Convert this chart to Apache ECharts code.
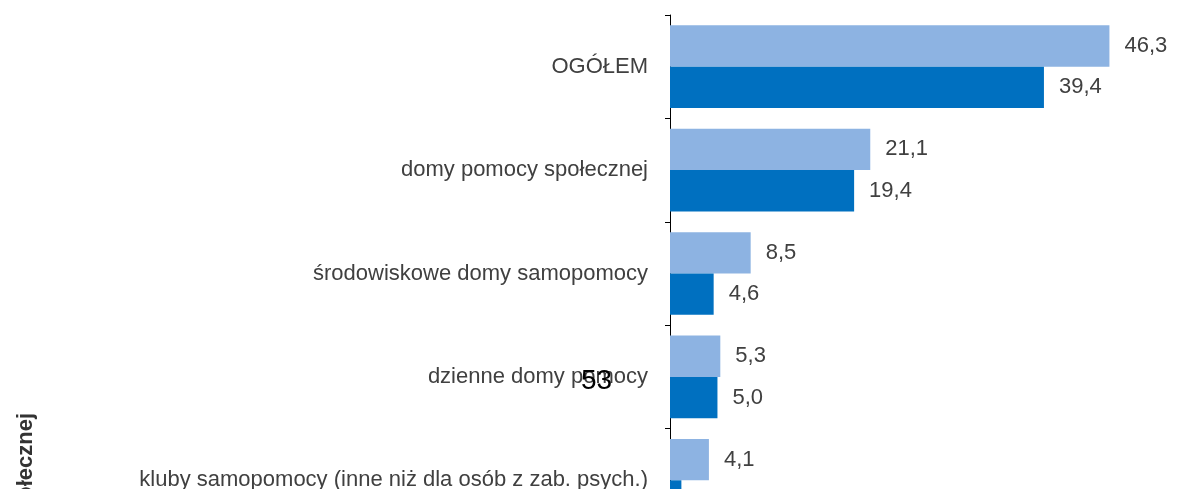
<!DOCTYPE html>
<html>
<head>
<meta charset="utf-8">
<script src="https://cdn.jsdelivr.net/npm/echarts@6/dist/echarts.min.js"></script>
<style>
	html, body { margin: 0; padding: 0; background: #fff; overflow: hidden; }
	#chartBox { width: 1192px; height: 540px; }
</style>
</head>
<body>
<div id="chartBox"></div>
<script>
// kategorie (od góry)
var categories = [
	'OGÓŁEM',
	'domy pomocy społecznej',
	'środowiskowe domy samopomocy',
	'dzienne domy pomocy',
	'kluby samopomocy (inne niż dla osób z zab. psych.)'
];
// wartości serii
var valuesLight = [46.3, 21.1, 8.5, 5.3, 4.1];
var valuesDark = [39.4, 19.4, 4.6, 5.0, 1.2];

var labelFont = '"Liberation Sans", Arial, sans-serif';

function fmt(p) {
	return p.value.toFixed(1).replace('.', ',');
}

var chart = echarts.init(document.getElementById('chartBox'), null, { renderer: 'canvas' });

var option = {
	animation: false,
	backgroundColor: '#ffffff',
	grid: {
		left: 670,
		right: 0,
		top: 15,
		bottom: 8
	},
	xAxis: {
		type: 'value',
		min: 0,
		max: 55,
		show: false
	},
	yAxis: {
		type: 'category',
		data: categories,
		inverse: true,
		axisLine: { show: true, lineStyle: { color: '#000', width: 1 } },
		axisTick: { show: true, length: 5, lineStyle: { color: '#000' } },
		axisLabel: {
			color: '#404040',
			fontFamily: labelFont,
			fontSize: 22,
			margin: 22
		},
		splitLine: { show: false }
	},
	series: [
		{
			type: 'bar',
			data: valuesLight,
			barGap: '0%',
			barCategoryGap: '20%',
			itemStyle: { color: '#8DB3E2' },
			label: {
				show: true,
				position: 'right',
				distance: 15,
				color: '#404040',
				fontFamily: labelFont,
				fontSize: 22,
				formatter: fmt
			}
		},
		{
			type: 'bar',
			data: valuesDark,
			barGap: '0%',
			barCategoryGap: '20%',
			itemStyle: { color: '#0070C0' },
			label: {
				show: true,
				position: 'right',
				distance: 15,
				color: '#404040',
				fontFamily: labelFont,
				fontSize: 22,
				formatter: fmt
			}
		}
	],
	graphic: [
		{
			type: 'text',
			x: 581,
			y: 381,
			z: 10,
			style: {
				text: '53',
				fill: '#000',
				font: '28px "Liberation Sans", sans-serif',
				align: 'left',
				verticalAlign: 'middle'
			}
		},
		{
			type: 'text',
			x: 37,
			y: 413,
			rotation: Math.PI / 2,
			style: {
				text: 'Osoby korzystające z pomocy społecznej',
				fill: '#333',
				font: 'bold 22px "Liberation Sans", sans-serif',
				align: 'right',
				verticalAlign: 'bottom'
			}
		}
	]
};

chart.setOption(option);
</script>
</body>
</html>
